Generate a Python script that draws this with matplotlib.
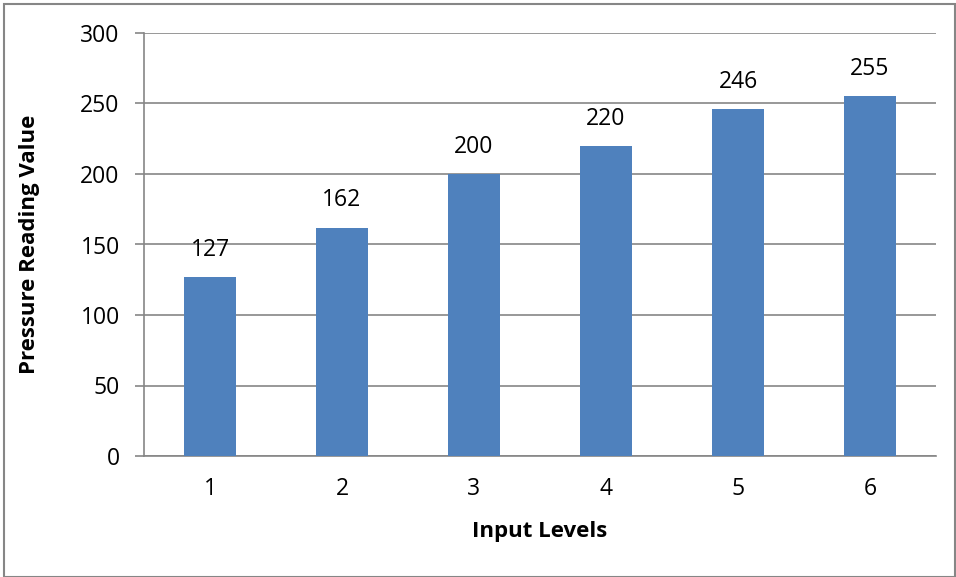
import matplotlib
matplotlib.use("Agg")
import matplotlib.pyplot as plt
from matplotlib.patches import Rectangle

categories = ["1", "2", "3", "4", "5", "6"]
values = [127, 162, 200, 220, 246, 255]
yticks = [0, 50, 100, 150, 200, 250, 300]

plt.rcParams['font.family'] = ['Open Sans', 'DejaVu Sans']

fig = plt.figure(figsize=(9.56, 5.77), dpi=100)
ax = fig.add_axes([144/956, 1-456/577, (936-144)/956, (456-33)/577])

x = list(range(len(categories)))
bars = ax.bar(x, values, width=0.4, color="#4F81BD", zorder=3)
for xi, v in zip(x, values):
    ax.annotate(str(v), (xi, v), xytext=(0, 19.5), textcoords="offset points",
                ha="center", va="center", fontsize=16.5, zorder=4)

ax.set_xlim(-0.5, len(categories) - 0.5)
ax.set_ylim(0, 300)
ax.set_yticks(yticks)
ax.set_xticks(x)
ax.set_xticklabels(categories)
ax.yaxis.grid(True, color="#868686", linewidth=1.2, zorder=0)
ax.set_axisbelow(True)
for s in ["top", "right"]:
    ax.spines[s].set_visible(False)
ax.spines["left"].set_color("#868686")
ax.spines["bottom"].set_color("#868686")
ax.spines["left"].set_linewidth(1.2)
ax.spines["bottom"].set_linewidth(1.2)
ax.tick_params(axis="y", length=6.5, color="#868686", width=1.2, labelsize=16.5, pad=11)
ax.tick_params(axis="x", length=0, labelsize=16.5, pad=15)

ax.set_ylabel("Pressure Reading Value", fontsize=16, fontweight="bold", va="center")
ax.yaxis.set_label_coords((30 - 144) / 792, 0.5)
ax.set_xlabel("Input Levels", fontsize=16, fontweight="bold", va="center")
ax.xaxis.set_label_coords((540 - 144) / 792, (456 - 531) / 423)

fig.patches.append(Rectangle((4/956, 0), 951/956, 1 - 4/577, transform=fig.transFigure,
                             fill=False, edgecolor="#868686", linewidth=1.5))

fig.savefig("out.png", dpi=100)
